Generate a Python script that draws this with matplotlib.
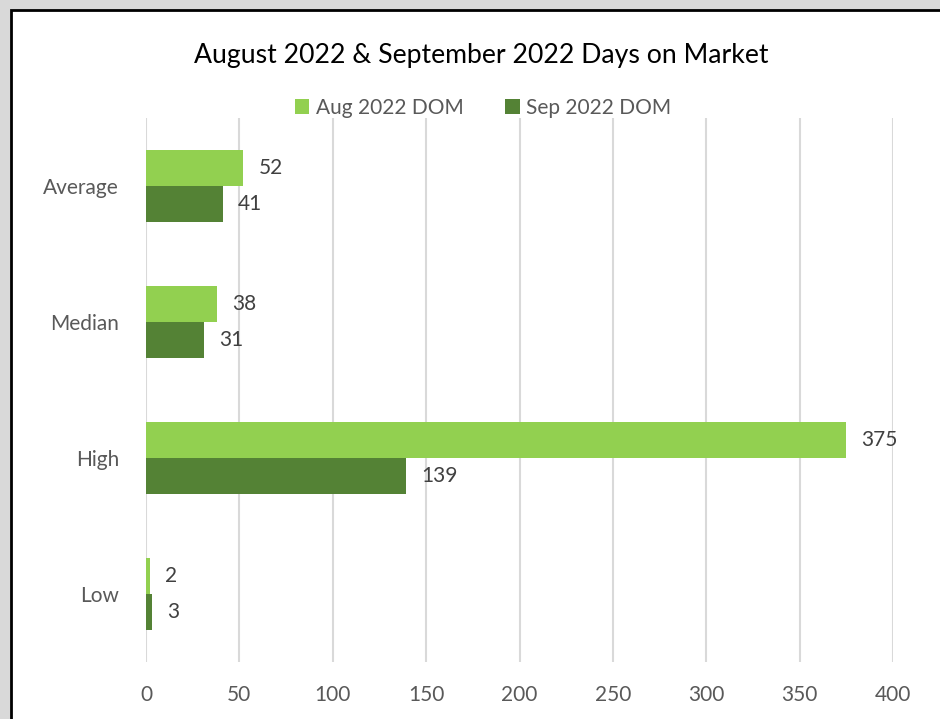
import numpy as np
import matplotlib.pyplot as plt
from matplotlib.patches import Rectangle

# Data
categories = ['Average', 'Median', 'High', 'Low']
aug_dom = [52, 38, 375, 2]
sep_dom = [41, 31, 139, 3]
x_ticks = [0, 50, 100, 150, 200, 250, 300, 350, 400]

aug_color = '#92d050'
sep_color = '#548235'
text_color = '#595959'

plt.rcParams['font.family'] = ['Lato', 'DejaVu Sans']

fig = plt.figure(figsize=(9.4, 7.19), dpi=100, facecolor='#d9d9d9')
# white chart area with dark border (cropped at right/bottom)
bg = fig.add_axes([0, 0, 1, 1], zorder=-1)
bg.set_axis_off()
bg.add_patch(Rectangle((11 / 940, -0.05), 1.05, 1 - 10 / 719 + 0.05,
                       transform=bg.transAxes, facecolor='white',
                       edgecolor='black', linewidth=2))

ax = fig.add_axes([146 / 940, 57 / 719, 747 / 940, 544 / 719])
ax.set_facecolor('none')

y = np.arange(len(categories))
h = 0.265
bars_aug = ax.barh(y - h / 2, aug_dom, height=h, color=aug_color, label='Aug 2022 DOM', zorder=3)
bars_sep = ax.barh(y + h / 2, sep_dom, height=h, color=sep_color, label='Sep 2022 DOM', zorder=3)

for bars, vals in [(bars_aug, aug_dom), (bars_sep, sep_dom)]:
    for b, v in zip(bars, vals):
        ax.annotate(str(v), (b.get_width(), b.get_y() + b.get_height() / 2),
                    xytext=(11, 0), textcoords='offset points',
                    va='center', ha='left', fontsize=15, color='#404040')

ax.set_xlim(0, 400)
ax.set_ylim(len(categories) - 0.5, -0.5)
ax.set_xticks(x_ticks)
ax.set_yticks(y)
ax.set_yticklabels(categories)
ax.tick_params(axis='both', length=0, labelsize=15, labelcolor=text_color)
ax.tick_params(axis='x', pad=16.5)
ax.tick_params(axis='y', pad=19.5)
ax.grid(axis='x', color='#d9d9d9', linewidth=1.5, zorder=0)
for s in ax.spines.values():
    s.set_visible(False)

fig.text(481 / 940, 1 - 55 / 719, 'August 2022 & September 2022 Days on Market',
         ha='center', va='center', fontsize=19.2, color='black')

fig.legend(loc='center', bbox_to_anchor=(483 / 940, 1 - 108 / 719), ncol=2,
           frameon=False, fontsize=15, labelcolor=text_color,
           handlelength=0.7, handleheight=0.7, handletextpad=0.3, columnspacing=2.0)

fig.savefig('out.png', dpi=100, facecolor=fig.get_facecolor())
